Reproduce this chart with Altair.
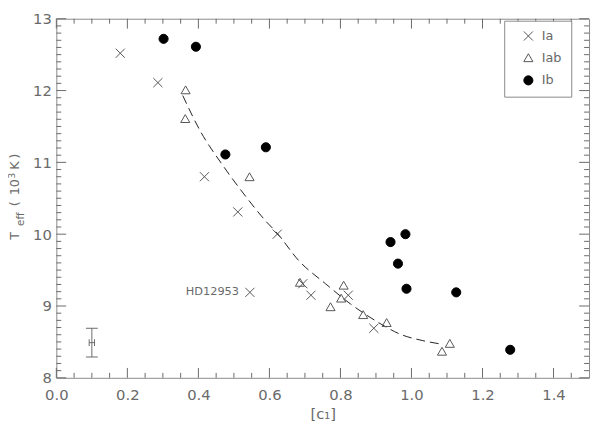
import altair as alt
import pandas as pd
import numpy as np

# ---- data ----
ia_c1 = [0.180, 0.286, 0.417, 0.511, 0.622, 0.545, 0.694, 0.717, 0.822, 0.894]
ia_teff = [12.52, 12.11, 10.80, 10.31, 10.00, 9.19, 9.31, 9.15, 9.15, 8.69]
iab_c1 = [0.364, 0.363, 0.544, 0.686, 0.772, 0.809, 0.802, 0.864, 0.930, 1.086, 1.108]
iab_teff = [12.01, 11.61, 10.80, 9.33, 8.99, 9.29, 9.11, 8.88, 8.77, 8.37, 8.48]
ib_c1 = [0.302, 0.393, 0.476, 0.590, 0.941, 0.983, 0.962, 0.986, 1.126, 1.278]
ib_teff = [12.72, 12.61, 11.11, 11.21, 9.89, 10.00, 9.59, 9.24, 9.19, 8.39]

fit_c1 = [0.356, 0.406, 0.467, 0.528, 0.592, 0.619, 0.683, 0.758, 0.828, 0.897, 0.972, 1.030, 1.083]
fit_teff = [11.93, 11.43, 10.97, 10.56, 10.17, 10.03, 9.63, 9.31, 9.03, 8.80, 8.60, 8.52, 8.47]

classes = ["Ia", "Iab", "Ib"]
label_name = ["HD12953"]
label_c1 = [0.545]
label_teff = [9.19]

err_c1 = [0.10]
err_teff = [8.49]
err_dteff = [0.20]
err_dc1 = [0.0075]

x_major = [0.0, 0.2, 0.4, 0.6, 0.8, 1.0, 1.2, 1.4]
y_major = [8, 9, 10, 11, 12, 13]
x_minor = [round(v, 2) for v in np.arange(0.05, 1.5, 0.05) if round(v * 20) % 4 != 0]
y_minor = [round(v, 1) for v in np.arange(8.1, 13.0, 0.1) if round(v * 10) % 10 != 0]

# ---- style ----
FONT = "DejaVu Sans"
GRAY = "#6a6a6a"
MGRAY = "#555555"
W, H = 540, 364

x_scale = alt.Scale(domain=[0, 1.5], nice=False, zero=False)
y_scale = alt.Scale(domain=[8, 13], nice=False, zero=False)

x_axis = alt.Axis(values=x_major, format=".1f", ticks=False, tickSize=0, grid=False,
                  domain=False, labelFont=FONT, labelFontSize=15, labelColor=GRAY,
                  labelPadding=10, labelFlush=False, labelOverlap=False,
                  title="[c₁]", titleFont=FONT, titleFontSize=15,
                  titleFontWeight="normal", titleColor=GRAY, titlePadding=4)
y_axis = alt.Axis(values=y_major, format="d", ticks=False, tickSize=0, grid=False,
                  domain=False, labelFont=FONT, labelFontSize=15, labelColor=GRAY,
                  labelPadding=5, labelFlush=False, labelOverlap=False, title=None)

df = pd.DataFrame({
    "c1": ia_c1 + iab_c1 + ib_c1,
    "teff": ia_teff + iab_teff + ib_teff,
    "cls": ["Ia"] * len(ia_c1) + ["Iab"] * len(iab_c1) + ["Ib"] * len(ib_c1),
})

leg = alt.Legend(title=None)
shape_scale = alt.Scale(domain=classes, range=["M-1,-1L1,1M-1,1L1,-1", "triangle-up", "circle"])
fill_scale = alt.Scale(domain=classes, range=["transparent", "transparent", "#000000"])
stroke_scale = alt.Scale(domain=classes, range=[MGRAY, MGRAY, "#000000"])

points = alt.Chart(df).mark_point(opacity=1, strokeWidth=1, size=85).encode(
    x=alt.X("c1:Q", scale=x_scale, axis=x_axis),
    y=alt.Y("teff:Q", scale=y_scale, axis=y_axis),
    shape=alt.Shape("cls:N", scale=shape_scale, legend=leg),
    fill=alt.Fill("cls:N", scale=fill_scale, legend=leg),
    stroke=alt.Stroke("cls:N", scale=stroke_scale, legend=leg),
)

fit = alt.Chart(pd.DataFrame({"c1": fit_c1, "teff": fit_teff})).mark_line(
    strokeDash=[9, 5], color="#222222", strokeWidth=1, interpolate="monotone"
).encode(
    x=alt.X("c1:Q", scale=x_scale, axis=x_axis),
    y=alt.Y("teff:Q", scale=y_scale, axis=y_axis),
)

lab = alt.Chart(pd.DataFrame({"name": label_name, "c1": label_c1, "teff": label_teff})).mark_text(
    align="right", baseline="middle", dx=-11, font=FONT, fontSize=11.5, color=GRAY
).encode(
    x=alt.X("c1:Q", scale=x_scale, axis=x_axis),
    y=alt.Y("teff:Q", scale=y_scale, axis=y_axis),
    text="name:N",
)

edf = pd.DataFrame({"c1": err_c1, "teff": err_teff, "dt": err_dteff, "dc": err_dc1})
edf["lo"] = edf["teff"] - edf["dt"]
edf["hi"] = edf["teff"] + edf["dt"]
edf["l"] = edf["c1"] - edf["dc"]
edf["r"] = edf["c1"] + edf["dc"]
ebase = alt.Chart(edf)
ev = ebase.mark_rule(color=GRAY, strokeWidth=1).encode(
    x=alt.X("c1:Q", scale=x_scale, axis=x_axis),
    y=alt.Y("lo:Q", scale=y_scale, axis=y_axis), y2="hi:Q")
eh = ebase.mark_rule(color=GRAY, strokeWidth=1).encode(
    x=alt.X("l:Q", scale=x_scale, axis=x_axis), x2="r:Q",
    y=alt.Y("teff:Q", scale=y_scale, axis=y_axis))
ecap1 = ebase.mark_tick(orient="horizontal", size=12, thickness=1, color=GRAY, opacity=1).encode(
    x=alt.X("c1:Q", scale=x_scale, axis=x_axis), y=alt.Y("lo:Q", scale=y_scale, axis=y_axis))
ecap2 = ebase.mark_tick(orient="horizontal", size=12, thickness=1, color=GRAY, opacity=1).encode(
    x=alt.X("c1:Q", scale=x_scale, axis=x_axis), y=alt.Y("hi:Q", scale=y_scale, axis=y_axis))
ecap3 = ebase.mark_tick(orient="vertical", size=7, thickness=1, color=GRAY, opacity=1).encode(
    x=alt.X("l:Q", scale=x_scale, axis=x_axis), y=alt.Y("teff:Q", scale=y_scale, axis=y_axis))
ecap4 = ebase.mark_tick(orient="vertical", size=7, thickness=1, color=GRAY, opacity=1).encode(
    x=alt.X("r:Q", scale=x_scale, axis=x_axis), y=alt.Y("teff:Q", scale=y_scale, axis=y_axis))

# inward ticks on all four sides
def xticks(vals, length):
    d = alt.Chart(pd.DataFrame({"v": vals}))
    bottom = d.mark_rule(color=GRAY, strokeWidth=1).encode(
        x=alt.X("v:Q", scale=x_scale, axis=x_axis), y=alt.value(H), y2=alt.value(H - length))
    top = d.mark_rule(color=GRAY, strokeWidth=1).encode(
        x=alt.X("v:Q", scale=x_scale, axis=x_axis), y=alt.value(0), y2=alt.value(length))
    return [bottom, top]

def yticks(vals, length):
    d = alt.Chart(pd.DataFrame({"v": vals}))
    left = d.mark_rule(color=GRAY, strokeWidth=1).encode(
        y=alt.Y("v:Q", scale=y_scale, axis=y_axis), x=alt.value(0), x2=alt.value(length))
    right = d.mark_rule(color=GRAY, strokeWidth=1).encode(
        y=alt.Y("v:Q", scale=y_scale, axis=y_axis), x=alt.value(W), x2=alt.value(W - length))
    return [left, right]

tick_layers = xticks(x_major, 10) + xticks(x_minor, 5) + yticks(y_major, 10) + yticks(y_minor, 5)

# y-axis title with subscript / superscript
one = pd.DataFrame({"a": [0]})
YB = -38
def piece(txt, y, dx, size):
    return alt.Chart(one).mark_text(text=txt, angle=270, align="left", baseline="alphabetic",
                                    font=FONT, fontSize=size, color=GRAY).encode(
        x=alt.value(YB + dx), y=alt.value(y))

ytitle = [
    piece("T", 224, 0, 13),
    piece("eff", 210, 5, 10.5),
    piece("(", 190, 0, 13),
    piece("10", 179, 0, 13),
    piece("3", 162, -4, 9),
    piece("K", 153, 0, 13),
    piece(")", 142, 0, 13),
]

chart = alt.layer(
    *tick_layers, ev, eh, ecap1, ecap2, ecap3, ecap4, fit, points, lab, *ytitle
).properties(
    width=W, height=H,
    autosize=alt.AutoSizeParams(type="none"),
    padding={"left": 49, "top": 8, "right": 3, "bottom": 49},
).configure_view(
    stroke="#8a8a8a", strokeWidth=1
).configure_legend(
    orient="none", legendX=454, legendY=2, strokeColor="#8a8a8a", fillColor="white",
    padding=9, symbolOffset=9, labelOffset=7, rowPadding=8, cornerRadius=0,
    labelFont=FONT, labelFontSize=13, labelColor=GRAY, symbolSize=85,
    symbolStrokeWidth=1,
)

chart.save("out.html", embed_options={"renderer": "svg", "actions": False})
